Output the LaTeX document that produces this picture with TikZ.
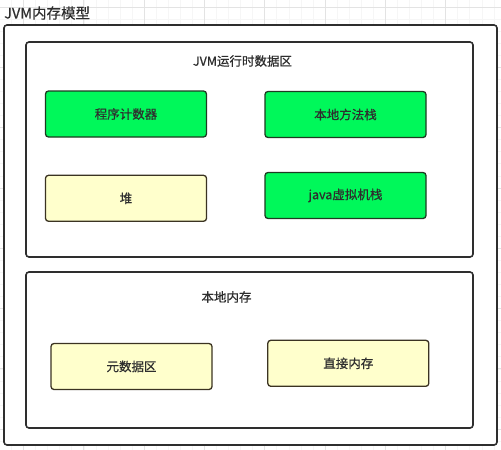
\documentclass[tikz,border=0pt]{standalone}
\usepackage{fontspec}
\setmainfont{Noto Sans CJK SC}
\newfontfamily\heavyfont[FakeBold=0.6]{Noto Sans CJK SC}
\usetikzlibrary{positioning}

\definecolor{stackgreen}{HTML}{00F85A}
\definecolor{stackedge}{HTML}{1E3B22}
\definecolor{heapyellow}{HTML}{FFFFCC}
\definecolor{heapedge}{HTML}{3B3322}
\definecolor{labelgray}{HTML}{2E2E2E}

\tikzset{
  gridminor/.style={gray!7, line width=0.6pt},
  gridmajor/.style={gray!22, line width=0.8pt},
  region/.style={draw=black!82, line width=1.6pt, rounded corners=3pt, fill=white, inner sep=0pt},
  regionlabel/.style={text=labelgray, font=\heavyfont\fontsize{12.5}{15}\selectfont, inner sep=0pt},
  greenbox/.style={draw=stackedge, fill=stackgreen, line width=1.3pt, rounded corners=3pt,
    minimum width=161pt, minimum height=46pt, text=labelgray, font=\heavyfont\fontsize{12.5}{15}\selectfont},
  yellowbox/.style={greenbox, draw=heapedge, fill=heapyellow},
}

\begin{document}
\begin{tikzpicture}[x=1pt, y=-1pt]

  \useasboundingbox (0,0) rectangle (501,450);

  % background grid
  \foreach \gx in {-0.6,11.46,...,501} {
    \draw[gridminor] (\gx,0) -- (\gx,450);
  }
  \foreach \gy in {7,19.06,...,450} {
    \draw[gridminor] (0,\gy) -- (501,\gy);
  }
  \foreach \gx in {23.5,83.8,...,501} {
    \draw[gridmajor] (\gx,0) -- (\gx,450);
  }
  \foreach \gy in {7,67.3,...,450} {
    \draw[gridmajor] (0,\gy) -- (501,\gy);
  }

  % title
  \node[anchor=west, inner sep=0pt, text=labelgray, font=\heavyfont\fontsize{14.5}{16}\selectfont] (title) at (4,13) {JVM内存模型};

  % outer frame and the two regions
  \node[region, minimum width=493pt, minimum height=420pt] (jvm-memory) at (250.5,235) {};
  \node[region, minimum width=447pt, minimum height=215pt] (runtime-area) at (249.5,149.5) {};
  \node[region, minimum width=447pt, minimum height=156pt] (native-area) at (249.5,350) {};

  \node[regionlabel] (runtime-label) at (242.5,61) {JVM运行时数据区};
  \node[regionlabel] (native-label) at (226.5,297) {本地内存};

  % runtime data area
  \node[greenbox] (box-pc) at (126,114) {程序计数器};
  \node[greenbox] (box-native-stack) at (345.5,114.5) {本地方法栈};
  \node[yellowbox] (box-heap) at (126,198.3) {堆};
  \node[greenbox] (box-jvm-stack) at (345.5,195.5) {java虚拟机栈};

  % native memory
  \node[yellowbox] (box-metaspace) at (131.5,366.5) {元数据区};
  \node[yellowbox] (box-direct) at (348.3,363.3) {直接内存};

\end{tikzpicture}
\end{document}
